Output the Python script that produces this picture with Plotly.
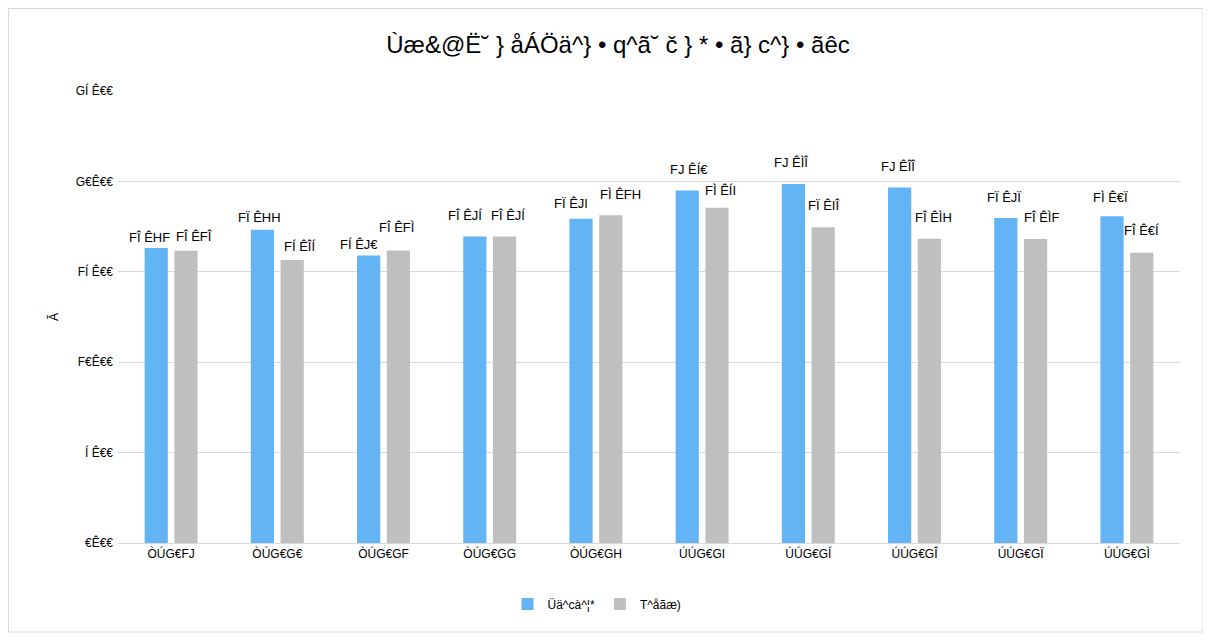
import plotly.graph_objects as go

categories = ["ÒÚG€FJ", "ÒÚG€G€", "ÒÚG€GF", "ÒÚG€GG", "ÒÚG€GH",
              "ÚÚG€GI", "ÚÚG€GÍ", "ÚÚG€GÎ", "ÚÚG€GÏ", "ÚÚG€GÌ"]
series_blue = [16.31, 17.33, 15.90, 16.95, 17.94, 19.50, 19.86, 19.66, 17.97, 18.07]
series_gray = [16.16, 15.65, 16.18, 16.95, 18.13, 18.54, 17.46, 16.83, 16.81, 16.05]
series_names = ["Üä^cà^¦*", "T^åãæ)"]
title_text = "Ùæ&@Ë˘ } åÁÖä^} • q^ã˘ č } * • ã} c^} • ãêc"
y_title = "Ã"
y_tick_vals = [0, 5, 10, 15, 20, 25]
y_tick_text = ["€Ê€€", "Í Ê€€", "F€Ê€€", "FÍ Ê€€", "G€Ê€€", "GÍ Ê€€"]

# glyph mapping seen in the reference for digits and decimal point
glyph = {"0": "€", "1": "F", "2": "G", "3": "H", "4": "I", "5": "Í",
         "6": "Î", "7": "Ï", "8": "Ì", "9": "J", ".": "Ê"}


def enc(v):
    s = "".join(glyph[c] for c in f"{v:.2f}")
    return s[:2] + " " + s[2:]


# label placement nudges (pixels), as the reference places them to avoid overlap
blue_dx = [-7, -3, -10, -10, -10, 2, -2, -2, -2, -2]
blue_dy = [11, 12, 11, 21, 15, 21, 21, 21, 21, 19]
gray_dx = [8, 7, -2, 3, 10, 4, 0, 4, 6, 0]
gray_dy = [14, 14, 23, 21, 21, 17, 22, 21, 22, 22]

font_family = "Liberation Sans, Arial, sans-serif"

fig = go.Figure()
fig.add_trace(go.Bar(x=categories, y=series_blue, name=series_names[0],
                     marker=dict(color="#63B4F4", line=dict(width=0))))
fig.add_trace(go.Bar(x=categories, y=series_gray, name=series_names[1],
                     marker=dict(color="#BFBFBF", line=dict(width=0))))

W, H = 1211, 640
L, R, T, B = 110, 39, 83, 105
pw, ph = W - L - R, H - T - B
bargap, bargroupgap = 0.44, 0.22
slot = pw / len(categories) * (1 - bargap) / 2
half = slot / 2

annotations = []
for i, c in enumerate(categories):
    annotations.append(dict(x=c, y=series_blue[i], xref="x", yref="y",
                            text=enc(series_blue[i]), showarrow=False,
                            xshift=-half + blue_dx[i], yshift=blue_dy[i],
                            yanchor="middle", xanchor="center",
                            font=dict(size=13, color="#000000", family=font_family)))
    annotations.append(dict(x=c, y=series_gray[i], xref="x", yref="y",
                            text=enc(series_gray[i]), showarrow=False,
                            xshift=half + gray_dx[i], yshift=gray_dy[i],
                            yanchor="middle", xanchor="center",
                            font=dict(size=13, color="#000000", family=font_family)))


def px(x):
    return (x - L) / pw


def py(y):
    return (H - B - y) / ph


fig.update_layout(
    width=W, height=H,
    margin=dict(l=L, r=R, t=T, b=B, autoexpand=False),
    paper_bgcolor="white", plot_bgcolor="white",
    font=dict(family=font_family, color="#000000", size=12),
    title=dict(text=title_text, x=px(610), xanchor="center", xref="paper",
               y=1 - 37 / H, yanchor="middle",
               font=dict(size=24, color="#000000", family=font_family)),
    barmode="group", bargap=bargap, bargroupgap=bargroupgap,
    showlegend=True,
    legend=dict(orientation="h", x=px(589), xanchor="center", y=py(596), yanchor="middle",
                font=dict(size=12, color="#000000"), itemwidth=30,
                traceorder="normal"),
    yaxis=dict(range=[0, 25], tickvals=y_tick_vals, ticktext=y_tick_text,
               showgrid=True, gridcolor="#D9D9D9", gridwidth=1, zeroline=False,
               showline=False, ticks="", ticklabelstandoff=4,
               title=dict(text=y_title, standoff=14, font=dict(size=12))),
    xaxis=dict(showline=True, linecolor="#D9D9D9", linewidth=1, ticks="",
               showgrid=False, tickfont=dict(size=12)),
    annotations=annotations,
    shapes=[dict(type="rect", xref="paper", yref="paper",
                 x0=px(0.5), x1=px(1195), y0=py(624), y1=py(0.5),
                 line=dict(color="#D9D9D9", width=1), fillcolor="rgba(0,0,0,0)",
                 layer="below")],
)

fig.write_html("out.html")
